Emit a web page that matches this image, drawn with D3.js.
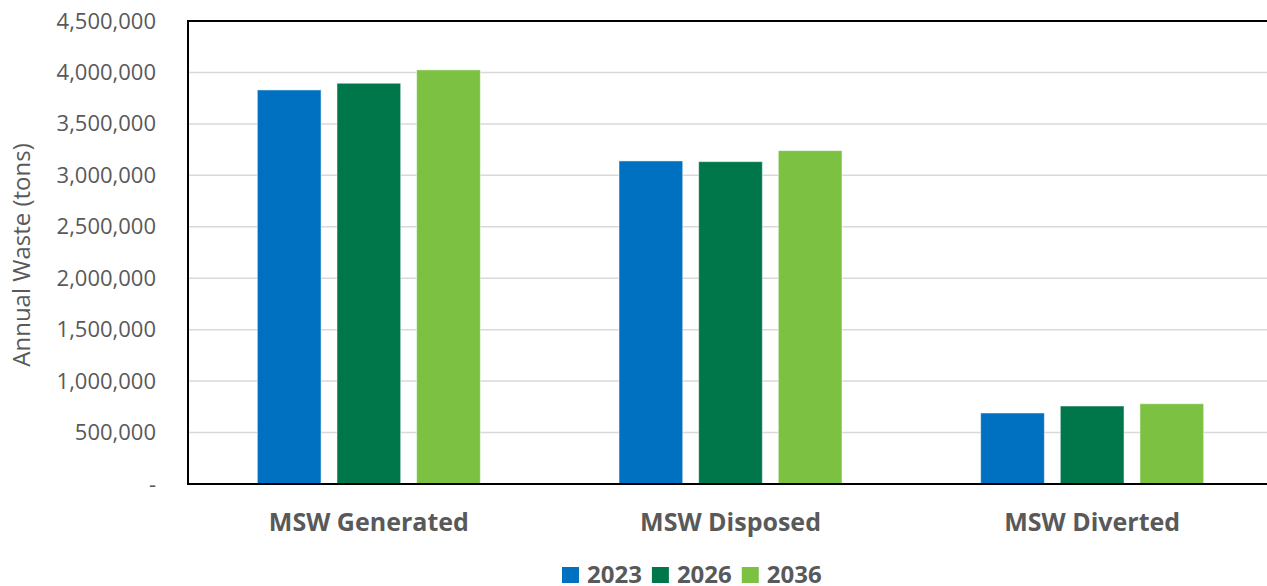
<!DOCTYPE html>
<html>
<head>
<meta charset="utf-8">
<script src="https://cdn.jsdelivr.net/npm/d3@7"></script>
<style>
  html, body { margin: 0; padding: 0; background: #fff; }
  svg { display: block; font-family: "Open Sans", sans-serif; }
</style>
</head>
<body>
<svg id="chart" width="1267" height="586"></svg>
<script>
// Annual municipal solid waste (tons) by category and year
const categories = ["MSW Generated", "MSW Disposed", "MSW Diverted"];
const years = ["2023", "2026", "2036"];
const values2023 = [3830000, 3140000, 690000];
const values2026 = [3895000, 3133000, 758000];
const values2036 = [4025000, 3240000, 780000];
const seriesColors = ["#0070C0", "#00774A", "#7CC142"];
const yTicks = [0, 500000, 1000000, 1500000, 2000000, 2500000, 3000000, 3500000, 4000000, 4500000];

const series = [values2023, values2026, values2036];
const rows = categories.map((c, i) => ({
  category: c,
  values: years.map((y, j) => ({ year: y, value: series[j][i], color: seriesColors[j] }))
}));

const svg = d3.select("#chart");
const plot = { left: 188, right: 1273, top: 21, bottom: 484 };

const x = d3.scaleBand().domain(categories).range([plot.left, plot.right]).paddingInner(0).paddingOuter(0);
const y = d3.scaleLinear().domain([0, 4500000]).range([plot.bottom, plot.top]);

const groupWidth = 223;
const xInner = d3.scaleBand().domain(years).range([0, groupWidth]).paddingInner(0.2).paddingOuter(0);

// gridlines
svg.append("g")
  .selectAll("line")
  .data(yTicks.filter(t => t > 0))
  .join("line")
  .attr("x1", plot.left).attr("x2", plot.right)
  .attr("y1", d => y(d)).attr("y2", d => y(d))
  .attr("stroke", "#d9d9d9").attr("stroke-width", 1.5);

// bars
const groups = svg.append("g")
  .selectAll("g")
  .data(rows)
  .join("g")
  .attr("transform", d => `translate(${x(d.category) + (x.bandwidth() - groupWidth) / 2},0)`);

groups.selectAll("rect")
  .data(d => d.values)
  .join("rect")
  .attr("x", d => xInner(d.year))
  .attr("width", xInner.bandwidth())
  .attr("y", d => y(d.value))
  .attr("height", d => y(0) - y(d.value))
  .attr("fill", d => d.color)
  .attr("stroke", "#ffffff").attr("stroke-opacity", 0.5).attr("stroke-width", 1);

// plot frame: left, top and baseline
svg.append("path")
  .attr("d", `M${plot.right},${plot.top}H${plot.left}V${plot.bottom}H${plot.right}`)
  .attr("fill", "none").attr("stroke", "#000").attr("stroke-width", 2);

// y axis labels
const yAxis = d3.axisLeft(y)
  .tickValues(yTicks)
  .tickSize(0)
  .tickPadding(0)
  .tickFormat(d => d === 0 ? "-" : d3.format(",")(d));
const yg = svg.append("g").attr("transform", `translate(156,0)`).call(yAxis);
yg.select(".domain").remove();
yg.selectAll("text")
  .attr("font-family", "Open Sans, sans-serif")
  .attr("font-size", 22)
  .attr("fill", "#595959");

// y axis title
svg.append("text")
  .attr("transform", `translate(30,255) rotate(-90)`)
  .attr("text-anchor", "middle")
  .attr("font-size", 24)
  .attr("fill", "#595959")
  .text("Annual Waste (tons)");

// category labels
const xAxis = d3.axisBottom(x).tickSize(0).tickPadding(0);
const xg = svg.append("g").attr("transform", `translate(0,${plot.bottom})`).call(xAxis);
xg.select(".domain").remove();
xg.selectAll("text")
  .attr("font-family", "Open Sans, sans-serif")
  .attr("font-size", 25)
  .attr("font-weight", "bold")
  .attr("fill", "#595959")
  .attr("dy", 0)
  .attr("y", 47);

// legend
const legend = svg.append("g").attr("transform", "translate(562,567)");
let lx = 0;
years.forEach((yr, i) => {
  const item = legend.append("g").attr("transform", `translate(${lx},0)`);
  item.append("rect").attr("x", 0).attr("y", 0).attr("width", 17).attr("height", 16).attr("fill", seriesColors[i]);
  const t = item.append("text").attr("x", 25).attr("y", 16)
    .attr("font-size", 24).attr("font-weight", "bold").attr("fill", "#595959").text(yr);
  lx += 25 + t.node().getComputedTextLength() + 10;
});
</script>
</body>
</html>
